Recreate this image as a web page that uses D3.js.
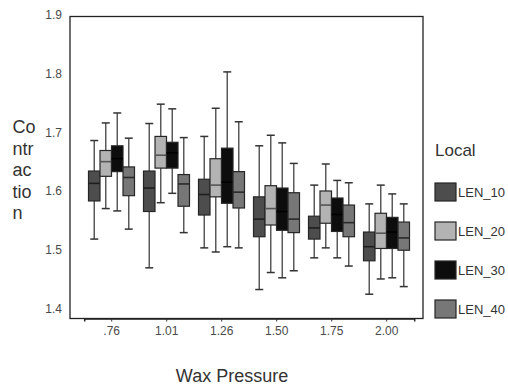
<!DOCTYPE html>
<html><head><meta charset="utf-8">
<script src="https://cdn.jsdelivr.net/npm/d3@7/dist/d3.min.js"></script>
<style>
html,body{margin:0;padding:0;background:#fff;}
svg{display:block;font-family:"Liberation Sans",Arial,sans-serif;}
</style></head><body>
<svg id="chart" width="508" height="389"></svg>
<script>
const categories = [".76", "1.01", "1.26", "1.50", "1.75", "2.00"];
const series = ["LEN_10", "LEN_20", "LEN_30", "LEN_40"];
const yTicks = [1.4, 1.5, 1.6, 1.7, 1.8, 1.9];
// each entry: [min, q1, median, q3, max]
const len10 = [[1.518,1.583,1.613,1.634,1.686],[1.469,1.565,1.605,1.634,1.715],[1.503,1.559,1.594,1.620,1.693],[1.432,1.522,1.552,1.590,1.677],[1.486,1.518,1.537,1.557,1.610],[1.424,1.481,1.505,1.530,1.578]];
const len20 = [[1.570,1.625,1.650,1.669,1.716],[1.580,1.639,1.661,1.693,1.748],[1.496,1.590,1.610,1.655,1.741],[1.461,1.542,1.570,1.609,1.695],[1.503,1.545,1.576,1.600,1.646],[1.450,1.502,1.528,1.562,1.610]];
const len30 = [[1.566,1.633,1.655,1.677,1.733],[1.596,1.639,1.665,1.683,1.740],[1.505,1.579,1.615,1.673,1.803],[1.452,1.533,1.565,1.605,1.682],[1.486,1.531,1.560,1.588,1.618],[1.452,1.502,1.530,1.555,1.595]];
const len40 = [[1.535,1.592,1.623,1.641,1.690],[1.529,1.574,1.612,1.628,1.691],[1.503,1.571,1.598,1.633,1.718],[1.464,1.529,1.552,1.597,1.647],[1.472,1.522,1.546,1.576,1.614],[1.437,1.499,1.520,1.547,1.578]];
const seriesData = [len10, len20, len30, len40];
const fills = ["#4d4d4d", "#b3b3b3", "#0d0d0d", "#777777"];
const medianColors = ["#1e1e1e", "#555555", "#000000", "#2a2a2a"];

const svg = d3.select("#chart");
const frame = {left: 70, top: 16.5, right: 423, bottom: 318.5};

const x = d3.scaleBand().domain(categories).range([84.2, 414.2]).padding(0);
const xs = d3.scaleBand().domain(series).range([4.3, 50.3]).padding(0);
const y = d3.scaleLinear().domain([1.4, 1.9]).range([308.3, 15.0]);

// frame
svg.append("rect").attr("x", frame.left).attr("y", frame.top)
  .attr("width", frame.right - frame.left).attr("height", frame.bottom - frame.top)
  .attr("fill", "none").attr("stroke", "#222").attr("stroke-width", 1.3);

// y axis labels
const ya = svg.append("g").attr("transform", `translate(${frame.left},0)`)
  .call(d3.axisLeft(y).tickValues(yTicks).tickSize(0).tickPadding(8).tickFormat(d3.format(".1f")));
ya.select(".domain").remove();
ya.selectAll("text").attr("font-size", 12).attr("fill", "#4a4a4a").attr("font-family", "Liberation Sans, Arial, sans-serif");

// x axis
const xa = svg.append("g").attr("transform", `translate(0,${frame.bottom})`)
  .call(d3.axisBottom(x).tickSize(3).tickPadding(5));
xa.select(".domain").attr("stroke", "#222").attr("stroke-width", 1.5);
xa.selectAll(".tick line").attr("stroke", "#333");
xa.selectAll("text").attr("font-size", 12).attr("fill", "#4a4a4a").attr("font-family", "Liberation Sans, Arial, sans-serif");

// boxes
const capW = 8;
series.forEach((s, si) => {
  const g = svg.append("g");
  seriesData[si].forEach((d, ci) => {
    const x0 = x(categories[ci]) + xs(s);
    const w = xs.bandwidth();
    const cx = x0 + w / 2;
    const [mn, q1, md, q3, mx] = d;
    // whisker
    g.append("line").attr("x1", cx).attr("x2", cx).attr("y1", y(mx)).attr("y2", y(q3))
      .attr("stroke", "#5a5a5a").attr("stroke-width", 1.5);
    g.append("line").attr("x1", cx).attr("x2", cx).attr("y1", y(q1)).attr("y2", y(mn))
      .attr("stroke", "#5a5a5a").attr("stroke-width", 1.5);
    g.append("line").attr("x1", cx - capW / 2).attr("x2", cx + capW / 2).attr("y1", y(mx)).attr("y2", y(mx))
      .attr("stroke", "#333").attr("stroke-width", 1.5);
    g.append("line").attr("x1", cx - capW / 2).attr("x2", cx + capW / 2).attr("y1", y(mn)).attr("y2", y(mn))
      .attr("stroke", "#333").attr("stroke-width", 1.5);
    // box
    g.append("rect").attr("x", x0).attr("y", y(q3)).attr("width", w).attr("height", y(q1) - y(q3))
      .attr("fill", fills[si]).attr("stroke", "#262626").attr("stroke-width", 1.2);
    // median
    g.append("line").attr("x1", x0).attr("x2", x0 + w).attr("y1", y(md)).attr("y2", y(md))
      .attr("stroke", medianColors[si]).attr("stroke-width", 1.6);
  });
});

// y title (wrapped)
const yTitle = ["Co", "ntr", "ac", "tio", "n"];
svg.append("text").attr("font-size", 18).attr("fill", "#333")
  .selectAll("tspan").data(yTitle).join("tspan")
  .attr("x", 12.5).attr("y", (d, i) => 133 + i * 21.5).text(d => d);

// x title
svg.append("text").attr("x", 232).attr("y", 382).attr("text-anchor", "middle")
  .attr("font-size", 18).attr("fill", "#333").text("Wax Pressure");

// legend
svg.append("text").attr("x", 435).attr("y", 156).attr("font-size", 17).attr("fill", "#333").text("Local");
const leg = svg.append("g").selectAll("g").data(series).join("g")
  .attr("transform", (d, i) => `translate(435,${192 + i * 39})`);
leg.append("rect").attr("x", 0).attr("y", -9).attr("width", 21).attr("height", 18)
  .attr("fill", (d, i) => fills[i]).attr("stroke", "#262626").attr("stroke-width", 1.2);
leg.append("text").attr("x", 23).attr("y", 0).attr("dy", "0.36em").attr("font-size", 13)
  .attr("fill", "#333").text(d => d);
</script>
</body></html>
